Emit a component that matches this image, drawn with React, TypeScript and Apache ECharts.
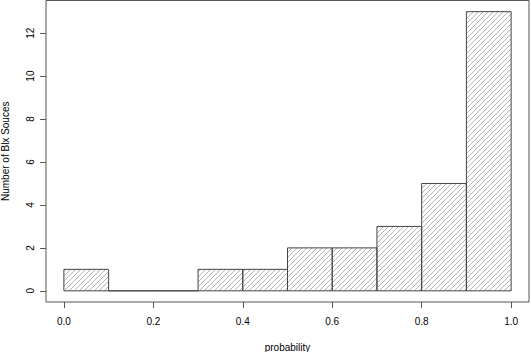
import React, { useEffect, useRef } from "react";
import * as echarts from "echarts";

const binStarts = [0.0, 0.1, 0.2, 0.3, 0.4, 0.5, 0.6, 0.7, 0.8, 0.9];
const binEnds = [0.1, 0.2, 0.3, 0.4, 0.5, 0.6, 0.7, 0.8, 0.9, 1.0];
const counts = [1, 0, 0, 1, 1, 2, 2, 3, 5, 13];
const xTicks = [0, 0.2, 0.4, 0.6, 0.8, 1.0];
const yTicks = [0, 2, 4, 6, 8, 10, 12];
const xTitle = "probability";
const yTitle = "Number of Blx Souces";

const FONT = "'Liberation Sans', Arial, Helvetica, sans-serif";

export default function App() {
  const ref = useRef<HTMLDivElement>(null);
  useEffect(() => {
    if (!ref.current) return;
    const chart = echarts.init(ref.current, null, { renderer: "svg" });
    const data = binStarts.map((s, i) => [s, binEnds[i], counts[i]]);
    const spacing = 5;
    chart.setOption({
      animation: false,
      grid: {
        left: 46,
        right: 2,
        top: 0.5,
        bottom: 50,
        containLabel: false,
        outerBoundsMode: "none",
        show: true,
        borderColor: "#555",
        borderWidth: 1,
        backgroundColor: "transparent",
      },
      xAxis: {
        type: "value",
        min: -0.04,
        max: 1.04,
        name: xTitle,
        nameLocation: "middle",
        nameGap: 40,
        nameTextStyle: { fontFamily: FONT, fontSize: 10, color: "#000" },
        axisLine: { show: false, onZero: false },
        splitLine: { show: false },
        axisTick: {
          show: true,
          customValues: xTicks,
          length: 6,
          lineStyle: { color: "#555" },
        },
        axisLabel: {
          customValues: xTicks,
          formatter: (v: number) => v.toFixed(1),
          fontFamily: FONT,
          fontSize: 10,
          color: "#000",
          margin: 14,
        },
      },
      yAxis: {
        type: "value",
        min: -0.52,
        max: 13.52,
        name: yTitle,
        nameLocation: "middle",
        nameRotate: 90,
        nameGap: 36,
        nameTextStyle: { fontFamily: FONT, fontSize: 10, color: "#000" },
        axisLine: { show: false, onZero: false },
        splitLine: { show: false },
        axisTick: {
          show: true,
          customValues: yTicks,
          length: 6,
          lineStyle: { color: "#555" },
        },
        axisLabel: {
          customValues: yTicks,
          rotate: 90,
          fontFamily: FONT,
          fontSize: 10,
          color: "#000",
          margin: 11,
        },
      },
      series: [
        {
          type: "custom",
          data,
          encode: { x: [0, 1], y: 2 },
          renderItem: (params: any, api: any) => {
            const x0 = api.value(0);
            const x1 = api.value(1);
            const c = api.value(2);
            const pa = api.coord([x0, 0]);
            const pb = api.coord([x1, c]);
            const xl = pa[0];
            const xr = pb[0];
            const yb = pa[1];
            const yt = pb[1];
            const children: any[] = [];
            if (yb - yt > 0.5) {
              const cMin = Math.ceil((xl + yt) / spacing) * spacing;
              const cMax = xr + yb;
              for (let k = cMin; k <= cMax; k += spacing) {
                const xa = Math.max(xl, k - yb);
                const xbb = Math.min(xr, k - yt);
                if (xbb - xa > 0.2) {
                  children.push({
                    type: "line",
                    shape: { x1: xa, y1: k - xa, x2: xbb, y2: k - xbb },
                    style: { stroke: "#ababab", lineWidth: 0.9 },
                    silent: true,
                  });
                }
              }
            }
            children.push({
              type: "rect",
              shape: { x: xl, y: yt, width: xr - xl, height: yb - yt },
              style: { fill: "none", stroke: "#444", lineWidth: 1 },
            });
            return { type: "group", children };
          },
        },
      ],
    });
    return () => chart.dispose();
  }, []);
  return (
    <div
      ref={ref}
      style={{ position: "fixed", left: 0, top: 0, width: 531, height: 352, background: "#fff" }}
    />
  );
}
